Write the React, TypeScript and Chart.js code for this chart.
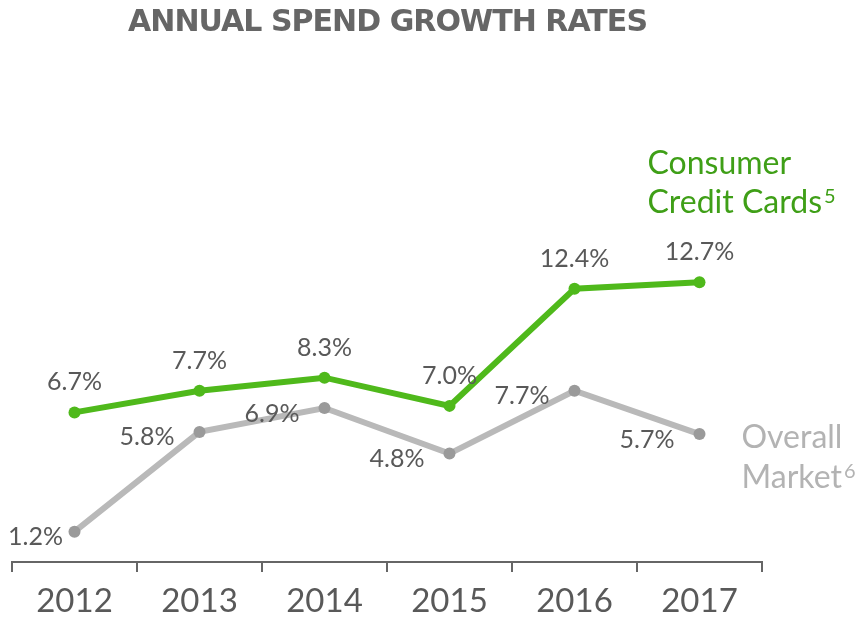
import React, { useEffect, useRef } from "react";
import { Chart, registerables } from "chart.js";

Chart.register(...registerables);

const categories = ["2012", "2013", "2014", "2015", "2016", "2017"];
const creditCards = [6.7, 7.7, 8.3, 7.0, 12.4, 12.7];
const overallMarket = [1.2, 5.8, 6.9, 4.8, 7.7, 5.7];
const creditLabels = ["6.7%", "7.7%", "8.3%", "7.0%", "12.4%", "12.7%"];
const marketLabels = ["1.2%", "5.8%", "6.9%", "4.8%", "7.7%", "5.7%"];
const titleText = "ANNUAL SPEND GROWTH RATES";
const creditName = ["Consumer", "Credit Cards"];
const creditSup = "5";
const marketName = ["Overall", "Market"];
const marketSup = "6";

const GREEN_LINE = "#4fb91b";
const GREEN_TEXT = "#3f9f17";
const GRAY_LINE = "#b9b9b9";
const GRAY_POINT = "#9a9a9a";
const GRAY_TEXT = "#b3b3b3";
const LABEL_COLOR = "#595959";
const FONT = "Lato, 'Open Sans', sans-serif";
const TITLE_FONT = "'DejaVu Sans', 'Open Sans', sans-serif";

const overlayPlugin = {
  id: "overlay",
  afterDatasetsDraw(chart: any) {
    const ctx = chart.ctx;
    ctx.save();
    // title
    ctx.font = `bold 30px ${TITLE_FONT}`;
    ctx.fillStyle = "#666666";
    ctx.textAlign = "left";
    ctx.textBaseline = "alphabetic";
    const w = ctx.measureText(titleText).width;
    const targetW = 520;
    const ls = (targetW - w) / (titleText.length - 1);
    (ctx as any).letterSpacing = `${ls}px`;
    ctx.fillText(titleText, 128, 31);
    (ctx as any).letterSpacing = "0px";

    // data labels
    ctx.font = `400 25px ${FONT}`;
    ctx.fillStyle = LABEL_COLOR;
    const m0 = chart.getDatasetMeta(0);
    const m1 = chart.getDatasetMeta(1);
    ctx.textAlign = "center";
    m0.data.forEach((pt: any, i: number) => {
      ctx.fillText(creditLabels[i], pt.x, pt.y - 22);
    });
    ctx.textAlign = "left";
    m1.data.forEach((pt: any, i: number) => {
      const tw = ctx.measureText(marketLabels[i]).width;
      const left = Math.max(8, pt.x - 25 - tw);
      ctx.fillText(marketLabels[i], left, pt.y + 13.5);
    });

    // series names
    const last0 = m0.data[m0.data.length - 1];
    const last1 = m1.data[m1.data.length - 1];
    ctx.textAlign = "left";
    ctx.font = `32px ${FONT}`;
    ctx.fillStyle = GREEN_TEXT;
    const gx = last0.x - 52;
    const gy = last0.y - 108;
    ctx.fillText(creditName[0], gx, gy);
    ctx.fillText(creditName[1], gx, gy + 39);
    const cw = ctx.measureText(creditName[1]).width;
    ctx.font = `20px ${FONT}`;
    ctx.fillText(creditSup, gx + cw + 2, gy + 29);

    ctx.font = `32px ${FONT}`;
    ctx.fillStyle = GRAY_TEXT;
    const ox = last1.x + 42;
    const oy = last1.y + 14;
    ctx.fillText(marketName[0], ox, oy);
    ctx.fillText(marketName[1], ox, oy + 40);
    const mw = ctx.measureText(marketName[1]).width;
    ctx.font = `20px ${FONT}`;
    ctx.fillText(marketSup, ox + mw + 2, oy + 30);
    ctx.restore();
  },
};

export default function App() {
  const ref = useRef<HTMLCanvasElement | null>(null);
  useEffect(() => {
    if (!ref.current) return;
    const chart = new Chart(ref.current, {
      type: "line",
      data: {
        labels: categories,
        datasets: [
          {
            data: creditCards,
            borderColor: GREEN_LINE,
            backgroundColor: GREEN_LINE,
            pointBackgroundColor: GREEN_LINE,
            pointBorderColor: GREEN_LINE,
            borderWidth: 6,
            pointRadius: 6,
            pointBorderWidth: 0,
            tension: 0,
          },
          {
            data: overallMarket,
            borderColor: GRAY_LINE,
            backgroundColor: GRAY_POINT,
            pointBackgroundColor: GRAY_POINT,
            pointBorderColor: GRAY_POINT,
            borderWidth: 6,
            pointRadius: 6,
            pointBorderWidth: 0,
            tension: 0,
          },
        ],
      },
      options: {
        animation: false,
        responsive: false,
        maintainAspectRatio: false,
        layout: {
          autoPadding: false,
          padding: { left: 12, right: 93, top: 124, bottom: 0 },
        },
        plugins: {
          legend: { display: false },
          title: { display: false },
          tooltip: { enabled: false },
        },
        scales: {
          x: {
            type: "category",
            offset: true,
            afterFit: (scale: any) => {
              scale.height = 57;
            },
            grid: {
              offset: true,
              drawOnChartArea: false,
              drawTicks: true,
              tickLength: 10,
              color: "#666666",
              lineWidth: 2,
            },
            border: { display: true, color: "#666666", width: 2 },
            ticks: {
              color: LABEL_COLOR,
              font: { family: FONT, size: 33, weight: "400" },
              padding: 10,
              maxRotation: 0,
            },
          },
          y: {
            display: false,
            min: -0.2,
            max: 20,
          },
        },
      },
      plugins: [overlayPlugin],
    } as any);
    return () => chart.destroy();
  }, []);
  return (
    <div style={{ position: "absolute", left: 0, top: 0, width: 855, height: 619, overflow: "hidden", background: "#fff" }}>
      <canvas ref={ref} width={855} height={619} style={{ width: 855, height: 619, display: "block" }} />
    </div>
  );
}
